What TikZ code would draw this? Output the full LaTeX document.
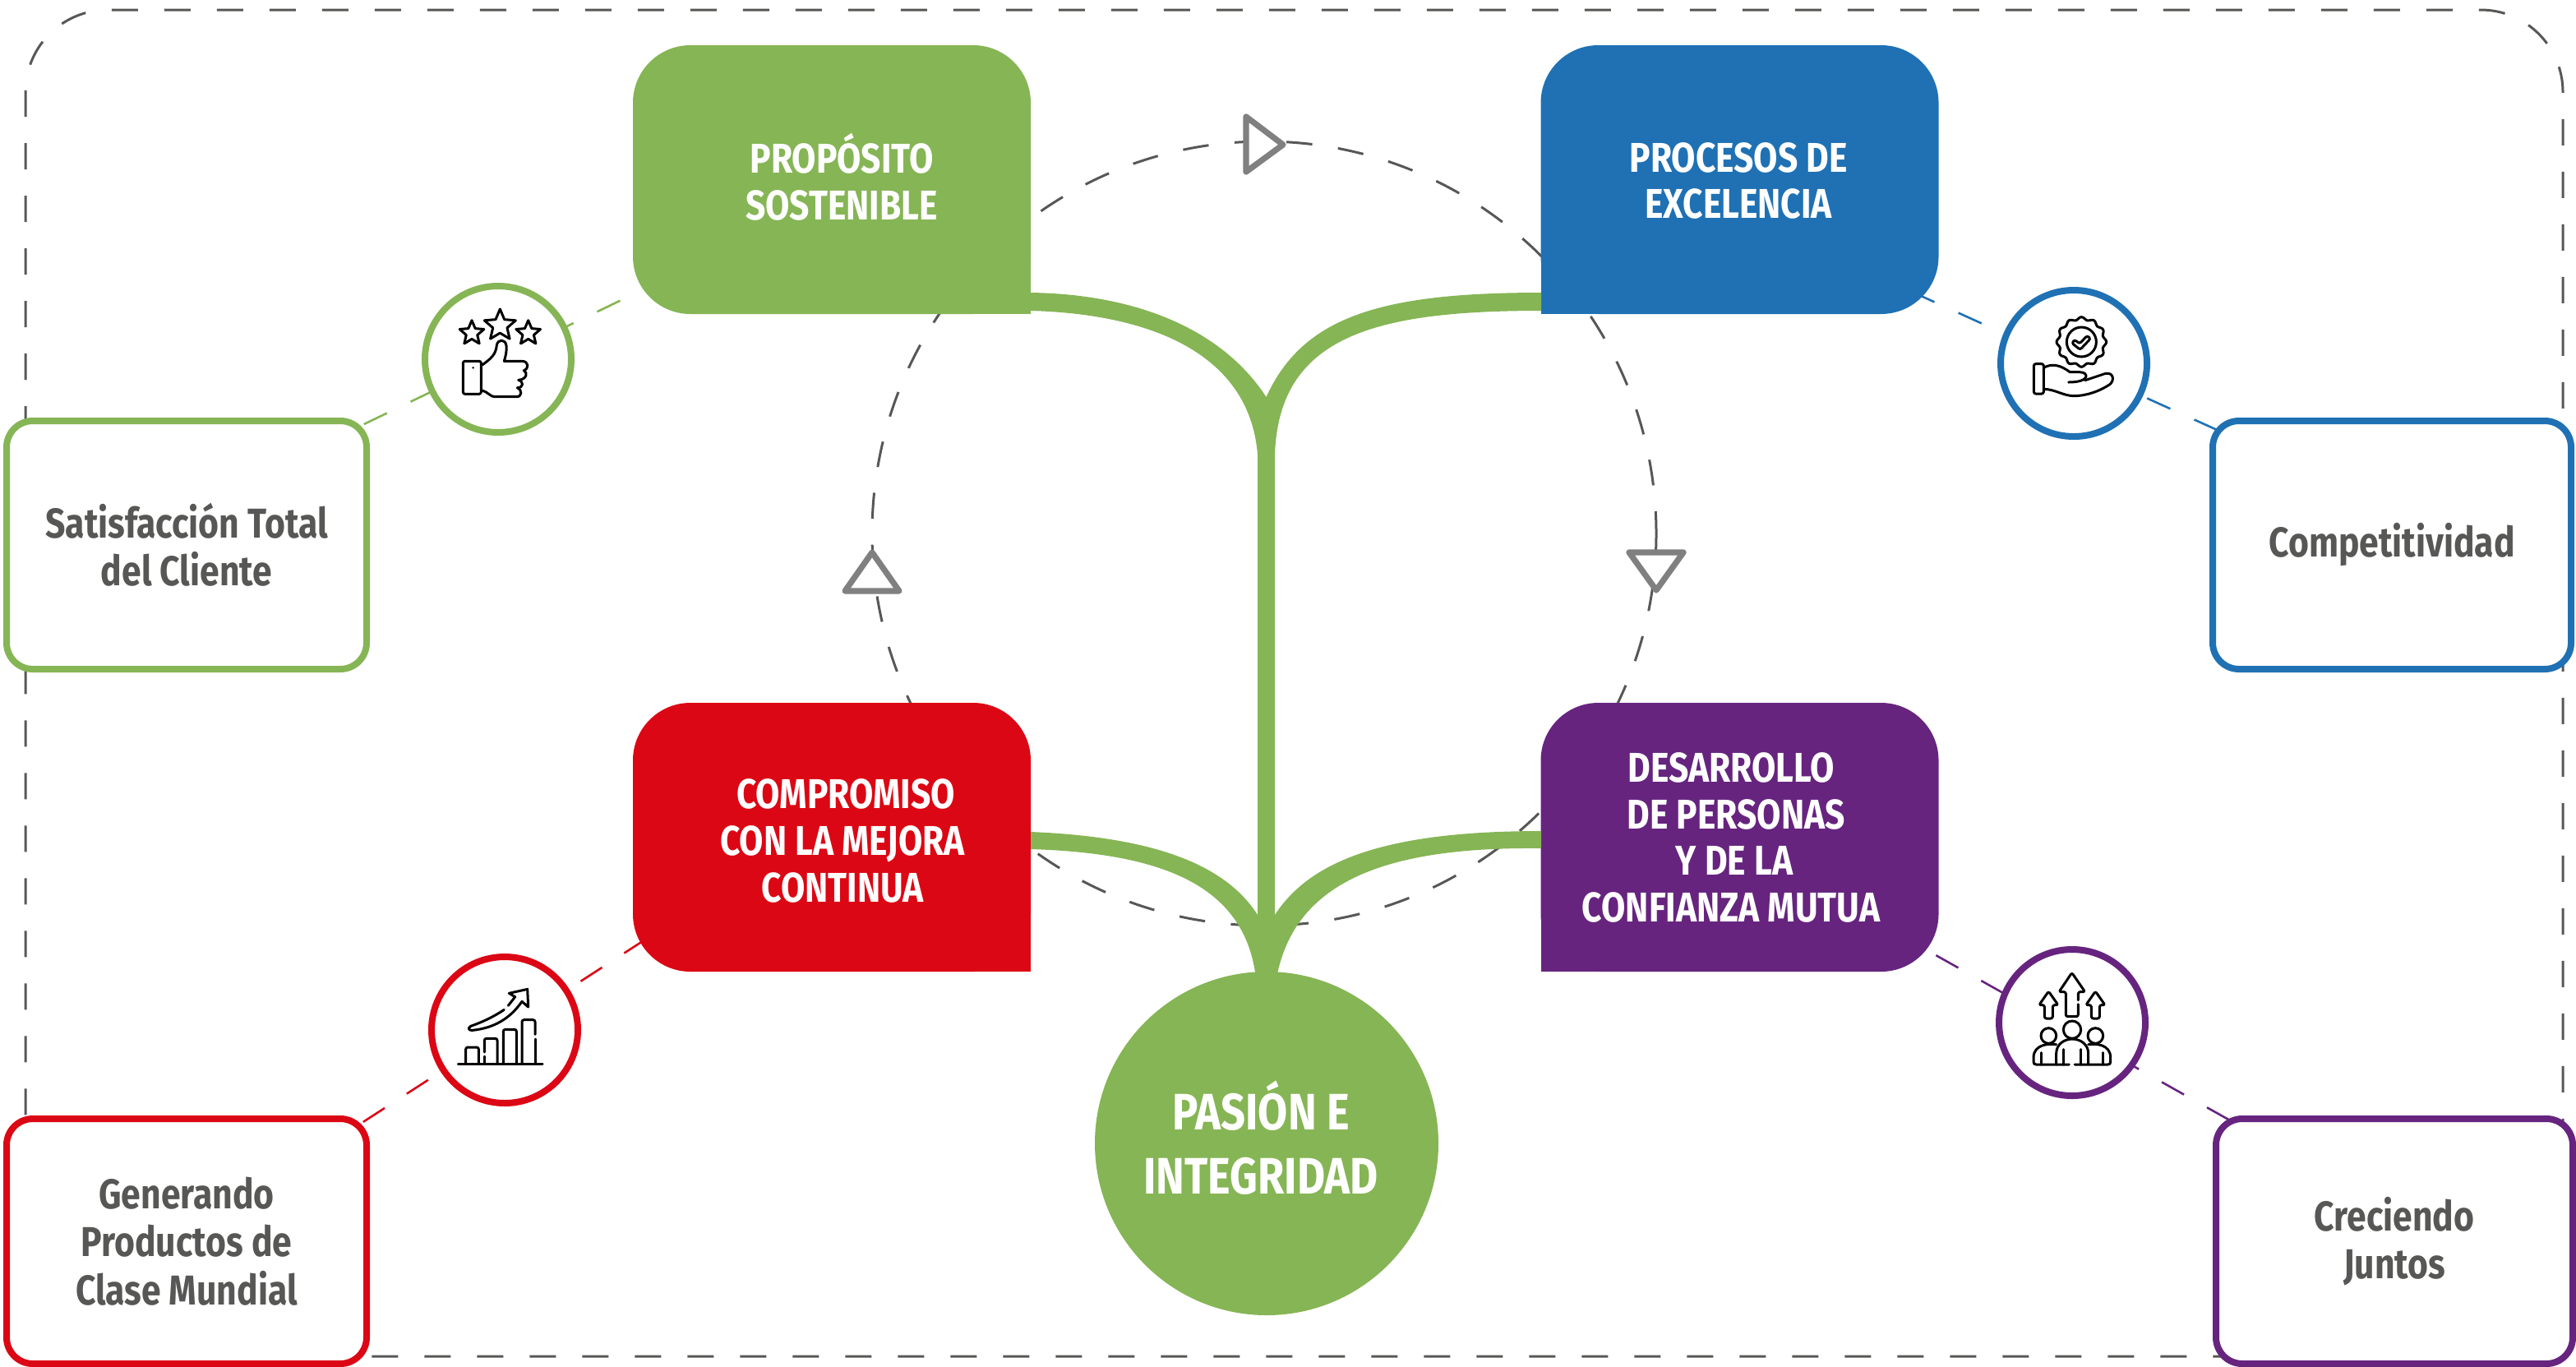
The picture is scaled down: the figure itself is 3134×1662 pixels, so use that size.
\documentclass[tikz,border=0pt]{standalone}
\usepackage{fontspec}
\usetikzlibrary{backgrounds,shapes.geometric}
\newfontfamily\firaestrecha[FakeStretch=0.84]{Fira Sans}
\definecolor{verde}{HTML}{86B555}
\definecolor{azul}{HTML}{1F71B4}
\definecolor{rojo}{HTML}{DC0714}
\definecolor{morado}{HTML}{66247F}
\definecolor{grisoscuro}{HTML}{575756}
\definecolor{grisflecha}{HTML}{808080}

\tikzset{
  caja/.style={rectangle,fill=#1,rounded corners=17.5pt,minimum width=121pt,minimum height=81.75pt,inner sep=0pt,outer sep=0pt},
  textocaja/.style={text=white,align=center,inner sep=0pt,font=\firaestrecha\bfseries\fontsize{12.65}{14.2}\selectfont},
  resultado/.style={rectangle,draw=#1,fill=white,line width=2pt,rounded corners=8pt,text=grisoscuro,align=center,inner sep=0pt,font=\firaestrecha\bfseries\fontsize{12.7}{14.6}\selectfont},
  anillo/.style={circle,draw=#1,fill=white,line width=2pt,minimum size=44.5pt,inner sep=0pt},
  enlace/.style={draw=#1,line width=0.65pt,dash pattern=on 7.75pt off 8pt,shorten <=-6pt,shorten >=-6pt},
  guia/.style={draw=grisoscuro,line width=0.75pt,dash pattern=on 7.9pt off 7.9pt},
  marco/.style={draw=grisoscuro,line width=0.75pt,dash pattern=on 8pt off 8pt},
  punta/.style={draw=grisflecha,fill=white,line width=1.8pt,line join=round},
  icono/.style={draw=black,line width=0.75pt,line join=round,line cap=round},
  estrella/.style={star,star points=5,star point ratio=2.2,draw=black,line width=0.75pt,line join=round,inner sep=0pt,minimum size=#1}
}

\begin{document}
\begin{tikzpicture}[x=0.25pt,y=-0.25pt]
	\useasboundingbox (0,0) rectangle (3134,1662);

	%Main boxes
	\node[caja=verde] (proposito) at (1012,218.5) {};
	\node[caja=azul] (procesos) at (2116.5,218.5) {};
	\node[caja=rojo] (compromiso) at (1012,1018.5) {};
	\node[caja=morado] (desarrollo) at (2116.5,1018.5) {};
	%Square corners
	\fill[verde] ([xshift=-18pt,yshift=18pt]proposito.south east) rectangle (proposito.south east);
	\fill[azul] ([xshift=18pt,yshift=18pt]procesos.south west) rectangle (procesos.south west);
	\fill[rojo] ([xshift=-18pt,yshift=18pt]compromiso.south east) rectangle (compromiso.south east);
	\fill[morado] ([xshift=18pt,yshift=18pt]desarrollo.south west) rectangle (desarrollo.south west);

	%Result boxes
	\node[resultado=verde,minimum width=109.5pt,minimum height=75.5pt] (cliente) at (227,663) {Satisfacción Total\\del Cliente};
	\node[resultado=azul,minimum width=109pt,minimum height=75.5pt] (competitividad) at (2910,663) {Competitividad};
	\node[resultado=rojo,minimum width=109.5pt,minimum height=74.5pt] (generando) at (227,1510) {Generando\\Productos de\\Clase Mundial};
	\node[resultado=morado,minimum width=108.5pt,minimum height=74.5pt] (creciendo) at (2913,1510) {Creciendo\\Juntos};

	%Icon rings
	\node[anillo=verde] (anilloverde) at (606,437) {};
	\node[anillo=azul] (anilloazul) at (2523,442) {};
	\node[anillo=rojo] (anillorojo) at (614,1253) {};
	\node[anillo=morado] (anillomorado) at (2521,1244) {};

	%Frame, dashed circle and links behind everything
	\begin{scope}[on background layer]
		\draw[marco,rounded corners=25pt] (31,690) -- (31,12) -- (3118,12) -- (3118,1650) -- (31,1650) -- cycle;
		\draw[guia] (1538,649) circle [radius=477];
		\draw[enlace=verde,dash phase=11.75pt] (cliente.34) -- (proposito.210);
		\draw[enlace=azul,dash phase=3.15pt] (procesos.328) -- (competitividad.147);
		\draw[enlace=rojo,dash phase=12.15pt] (generando.34) -- (compromiso.209);
		\draw[enlace=morado,dash phase=10.65pt] (desarrollo.329) -- (creciendo.144);
	\end{scope}

	%Tree upper part
	\fill[verde] (1254,356) .. controls (1390,358) and (1490,405) .. (1540.5,483)
		.. controls (1585,385) and (1680,356) .. (1875,356) -- (1875,378)
		.. controls (1670,378) and (1556,410) .. (1551,553) -- (1530,553)
		.. controls (1520,430) and (1400,382) .. (1254,378) -- cycle;
	%Tree trunk
	\fill[verde] (1530,540) rectangle (1551,1190);
	%Tree lower part
	\fill[verde] (1254,1012) .. controls (1400,1018) and (1490,1050) .. (1530,1113) -- (1551,1113)
		.. controls (1595,1045) and (1690,1011) .. (1875,1011) -- (1875,1032)
		.. controls (1690,1030) and (1575,1070) .. (1553,1190) -- (1528,1190)
		.. controls (1515,1080) and (1420,1038) .. (1254,1033) -- cycle;

	%Root circle
	\node[circle,fill=verde,minimum size=104.5pt,inner sep=0pt] (pasion) at (1541,1391) {};

	% Text Node
	\node[textocaja,font=\firaestrecha\bfseries\fontsize{15.6}{19.4}\selectfont] (pasiontexto) at (1534,1384) {PASIÓN E\\INTEGRIDAD};
	% Text Node
	\node[textocaja] (propositotexto) at (1024,215) {PROPÓSITO\\SOSTENIBLE};
	% Text Node
	\node[textocaja] (procesostexto) at (2115,220) {PROCESOS DE\\EXCELENCIA};
	% Text Node
	\node[textocaja] (compromisotexto) at (1025,1023) {\hspace*{2pt}COMPROMISO\\CON LA MEJORA\\CONTINUA};
	% Text Node
	\node[textocaja] (desarrollotexto) at (2106,1019) {DESARROLLO\\\hspace*{3pt}DE PERSONAS\\\hspace*{2pt}Y DE LA\\CONFIANZA MUTUA};

	%Triangles on the dashed circle
	\draw[punta] (1516,142) -- (1561,176) -- (1516,209) -- cycle;
	\draw[punta] (1061,672) -- (1094,719) -- (1028,719) -- cycle;
	\draw[punta] (1982,672) -- (2048,672) -- (2015,718) -- cycle;

	%Icon: thumb and stars
	\begin{scope}[shift={(400,300)},scale=1/3]
		\node[estrella=10pt] (estrellacentro) at (625,288) {};
		\node[estrella=7.8pt] (estrellaizq) at (522,316) {};
		\node[estrella=7.8pt] (estrellader) at (728,316) {};
		\draw[icono,rounded corners=0.6pt] (490,418) rectangle (556,538);
		\fill (527,442) circle [radius=4];
		\draw[icono] (560,432) .. controls (590,410) and (610,395) .. (613,360)
			.. controls (616,338) and (645,335) .. (648,362)
			.. controls (650,385) and (645,400) .. (640,418) -- (705,418)
			.. controls (730,418) and (732,445) .. (712,452)
			.. controls (728,460) and (722,485) .. (692,487)
			.. controls (712,492) and (712,515) .. (688,515)
			.. controls (708,525) and (705,548) .. (685,548) -- (605,548)
			.. controls (590,548) and (580,530) .. (560,525);
	\end{scope}

	%Icon: hand and seal
	\begin{scope}[shift={(2360,300)},scale=1/3]
		\draw[icono] plot[domain=0:360,samples=97,smooth] ({517+(86+5*cos(12*\x))*cos(\x)},{348+(86+5*cos(12*\x))*sin(\x)}) -- cycle;
		\draw[icono] (517,348) circle [radius=54];
		\draw[icono,rounded corners=0.6pt] (482,352) -- (492,340) -- (510,354) -- (538,325) -- (550,336) -- (512,376) -- cycle;
		\draw[icono,rounded corners=0.6pt] (343,428) rectangle (379,537);
		\draw[icono] (379,442) .. controls (410,425) and (440,432) .. (475,458) -- (510,458)
			.. controls (545,458) and (550,495) .. (470,495);
		\draw[icono] (530,488) -- (605,463) .. controls (635,458) and (638,490) .. (620,503)
			.. controls (580,530) and (530,545) .. (490,545)
			.. controls (450,545) and (420,520) .. (379,520);
	\end{scope}

	%Icon: bars and arrow
	\begin{scope}[shift={(440,1120)},scale=1/3]
		\draw[icono] (352,524) -- (660,524);
		\draw[icono,rounded corners=0.6pt] (380,524) -- (380,462) -- (427,462) -- (427,524);
		\draw[icono,rounded corners=0.6pt] (448,480) -- (448,430) -- (495,430) -- (495,524);
		\draw[icono] (448,495) -- (448,524);
		\draw[icono,rounded corners=0.6pt] (517,524) -- (517,397) -- (565,397) -- (565,524);
		\draw[icono,rounded corners=0.6pt] (585,524) -- (585,362) -- (633,362) -- (633,415);
		\draw[icono] (633,432) -- (633,524);
		\draw[icono] (520,325) .. controls (480,352) and (440,370) .. (398,385)
			.. controls (385,392) and (392,402) .. (405,400)
			.. controls (480,392) and (540,360) .. (585,295) -- (608,315) -- (605,250) -- (538,265) -- (560,278)
			-- (535,310);
	\end{scope}

	%Icon: team and arrows
	\begin{scope}[shift={(2360,1120)},scale=1/3]
		\draw[icono,rounded corners=0.6pt] (505,305) -- (505,350) -- (460,350) -- (460,260) -- (435,260) -- (482,190) -- (530,260) -- (505,260) -- (505,290);
		\draw[icono,rounded corners=0.6pt] (382,357) -- (382,308) -- (362,308) -- (397,258) -- (432,308) -- (412,308) -- (412,357) -- cycle;
		\draw[icono,rounded corners=0.6pt] (553,357) -- (553,308) -- (533,308) -- (568,258) -- (603,308) -- (583,308) -- (583,357) -- cycle;
		\draw[icono] (483,398) circle [radius=32];
		\draw[icono] (397,420) circle [radius=28];
		\draw[icono] (568,420) circle [radius=28];
		\draw[icono] (425,525) -- (425,485) .. controls (425,450) and (455,432) .. (483,432)
			.. controls (512,432) and (542,450) .. (542,485) -- (542,525);
		\draw[icono] (425,452) .. controls (400,448) and (342,450) .. (342,500) -- (342,515)
			.. controls (342,522) and (345,525) .. (352,525) -- (472,525);
		\draw[icono] (542,452) .. controls (567,448) and (623,450) .. (623,500) -- (623,515)
			.. controls (623,522) and (620,525) .. (613,525) -- (492,525);
		\draw[icono] (370,482) -- (370,525);
		\draw[icono] (450,470) -- (450,525);
		\draw[icono] (515,470) -- (515,525);
		\draw[icono] (595,482) -- (595,525);
	\end{scope}
\end{tikzpicture}
\end{document}
